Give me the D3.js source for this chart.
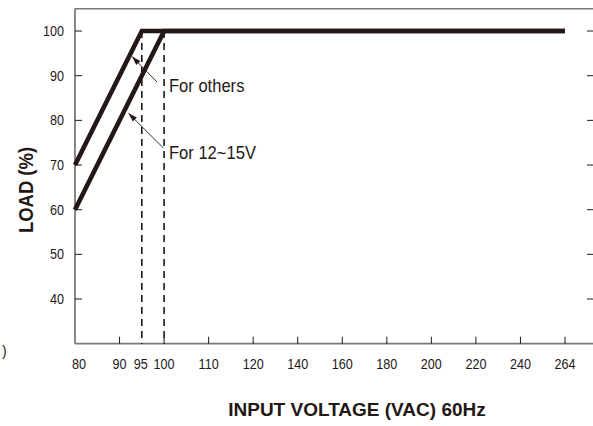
<!DOCTYPE html>
<html>
<head>
<meta charset="utf-8">
<script src="https://cdn.jsdelivr.net/npm/d3@7"></script>
<style>
  body { margin: 0; background: #fff; }
  text { font-family: "Liberation Sans", Arial, sans-serif; fill: #231815; }
</style>
</head>
<body>
<svg width="593" height="426"></svg>
<script>
// data
var xCats = [80, 90, 100, 110, 120, 140, 160, 180, 200, 220, 240, 264];
var xTicks = [80, 90, 95, 100, 110, 120, 140, 160, 180, 200, 220, 240, 264];
var yTicks = [40, 50, 60, 70, 80, 90, 100];
var othersV = [80, 95, 264];
var othersLoad = [70, 100, 100];
var lowV = [80, 100, 264];
var lowLoad = [60, 100, 100];
var markV = [95, 100];

var svg = d3.select("svg"),
  width = +svg.attr("width"),
  height = +svg.attr("height");

var mLeft = 75, mRight = 565, mTop = 8.7, mBottom = 343.7;

// the axis is evenly spaced by category, 95 sits half way
var pt = d3.scalePoint().domain(xCats).range([mLeft, mRight]);
var x = d3.scaleLinear().domain(xCats).range(xCats.map(function(d) { return pt(d); }));
var y = d3.scaleLinear().domain([30, 105]).range([mBottom, mTop]);

// narrow-ish look for the text
function squeeze(px, py, k) {
  return "translate(" + px + "," + py + ") scale(" + k + ",1)";
}

// frame
svg.append("line").attr("x1", mLeft).attr("x2", width).attr("y1", mTop).attr("y2", mTop)
  .attr("stroke", "#7a7a7a").attr("stroke-width", 1.5);
svg.append("line").attr("x1", mLeft).attr("x2", mLeft).attr("y1", mTop).attr("y2", mBottom)
  .attr("stroke", "#7a7a7a").attr("stroke-width", 1.8);
svg.append("line").attr("x1", mLeft).attr("x2", width).attr("y1", mBottom).attr("y2", mBottom)
  .attr("stroke", "#7a7a7a").attr("stroke-width", 1.8);

// y ticks, left and right
var gy = svg.append("g");
gy.selectAll(".tl").data(yTicks).enter().append("line")
  .attr("x1", mLeft).attr("x2", mLeft + 7)
  .attr("y1", function(d) { return y(d); }).attr("y2", function(d) { return y(d); })
  .attr("stroke", "#231815").attr("stroke-width", 1);
gy.selectAll(".tr").data(yTicks).enter().append("line")
  .attr("x1", width - 6).attr("x2", width)
  .attr("y1", function(d) { return y(d); }).attr("y2", function(d) { return y(d); })
  .attr("stroke", "#231815").attr("stroke-width", 1);
gy.selectAll("text").data(yTicks).enter().append("text")
  .attr("transform", function(d) { return squeeze(mLeft - 11, y(d) + 5, 0.9); })
  .attr("text-anchor", "end").attr("font-size", "14px")
  .text(function(d) { return d; });

// x ticks
var gx = svg.append("g");
gx.selectAll("line").data(xCats.slice(1)).enter().append("line")
  .attr("x1", function(d) { return x(d); }).attr("x2", function(d) { return x(d); })
  .attr("y1", mBottom - 7).attr("y2", mBottom)
  .attr("stroke", "#231815").attr("stroke-width", 1);
gx.selectAll("text").data(xTicks).enter().append("text")
  .attr("transform", function(d) {
    return squeeze(x(d) + (d == 80 ? 4 : d == 95 ? -1 : 0), mBottom + 25.5, 0.9);
  })
  .attr("text-anchor", "middle").attr("font-size", "14px")
  .text(function(d) { return d; });

// dashed markers at 95 and 100
svg.selectAll(".mark").data(markV).enter().append("line")
  .attr("x1", function(d) { return x(d); }).attr("x2", function(d) { return x(d); })
  .attr("y1", y(100)).attr("y2", mBottom)
  .attr("stroke", "#231815").attr("stroke-width", 1.6)
  .attr("stroke-dasharray", "7,5");

// curves
var line = d3.line().x(function(d) { return x(d[0]); }).y(function(d) { return y(d[1]); });
var series = [
  othersV.map(function(v, i) { return [v, othersLoad[i]]; }),
  lowV.map(function(v, i) { return [v, lowLoad[i]]; })
];
svg.selectAll(".curve").data(series).enter().append("path")
  .attr("d", line)
  .attr("fill", "none").attr("stroke", "#231815").attr("stroke-width", 4.6)
  .attr("stroke-linejoin", "miter");

// annotations, arrow tip sits on the curve
svg.append("defs").append("marker")
  .attr("id", "arr").attr("viewBox", "0 0 10 10").attr("refX", 10).attr("refY", 5)
  .attr("markerWidth", 9).attr("markerHeight", 9).attr("markerUnits", "userSpaceOnUse")
  .attr("orient", "auto-start-reverse")
  .append("path").attr("d", "M10,5 L0,1.8 L0,8.2 Z").attr("fill", "#231815");

var notes = [
  { label: "For others", v: 92.8, load: 94.3, v2: 98.4, load2: 88.6, lx: 169, ly: 92 },
  { label: "For 12~15V", v: 92.0, load: 81.6, v2: 99.85, load2: 73.8, lx: 169, ly: 159 }
];
notes.forEach(function(n) {
  svg.append("line")
    .attr("x1", x(n.v)).attr("y1", y(n.load))
    .attr("x2", x(n.v2)).attr("y2", y(n.load2))
    .attr("stroke", "#231815").attr("stroke-width", 0.9)
    .attr("marker-start", "url(#arr)");
  svg.append("text").attr("transform", squeeze(n.lx, n.ly, 0.92))
    .attr("font-size", "18px").text(n.label);
});

// axis titles
svg.append("text").attr("x", 357).attr("y", 416)
  .attr("text-anchor", "middle").attr("font-size", "19px").attr("font-weight", "bold")
  .text("INPUT VOLTAGE (VAC) 60Hz");
svg.append("text").attr("transform", "translate(33,190) rotate(-90) scale(0.88,1)")
  .attr("text-anchor", "middle").attr("font-size", "21px").attr("font-weight", "bold")
  .text("LOAD (%)");
svg.append("text").attr("x", 2).attr("y", 356).attr("font-size", "14px").text(")");
</script>
</body>
</html>
